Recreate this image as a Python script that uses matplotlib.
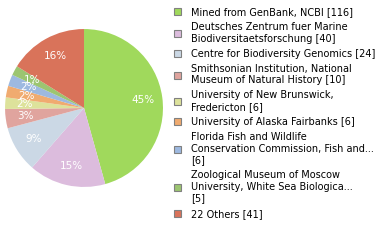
import matplotlib
matplotlib.use("Agg")
import matplotlib.pyplot as plt
from matplotlib.patches import Patch

# source labels (legend) and record counts
labels = [
    "Mined from GenBank, NCBI",
    "Deutsches Zentrum fuer Marine\nBiodiversitaetsforschung",
    "Centre for Biodiversity Genomics",
    "Smithsonian Institution, National\nMuseum of Natural History",
    "University of New Brunswick,\nFredericton",
    "University of Alaska Fairbanks",
    "Florida Fish and Wildlife\nConservation Commission, Fish and...\n",
    "Zoological Museum of Moscow\nUniversity, White Sea Biologica...\n",
    "22 Others",
]
counts = [116, 40, 24, 10, 6, 6, 6, 5, 41]
colors = ["#a0d95c", "#dcbcdd", "#cbd8e5", "#e0a49e", "#dde29b",
          "#f0ab70", "#9db9e0", "#9cc571", "#d9735a"]

fig = plt.figure(figsize=(3.8, 2.4), dpi=100)
ax = fig.add_axes([0.0132, 0.221, 0.4158, 0.658])

def pct_label(p):
    return "%d%%" % int(p)

wedges, texts, autotexts = ax.pie(counts, colors=colors, startangle=90,
                                  counterclock=False, autopct=pct_label,
                                  pctdistance=0.75, radius=1,
                                  wedgeprops={"linewidth": 0})
for t in autotexts:
    t.set_color("white")
    t.set_fontsize(7.5)
ax.set_xlim(-1, 1)
ax.set_ylim(-1, 1)
ax.set_aspect("equal")
ax.axis("off")

handles = [Patch(facecolor=c, edgecolor="#808080", linewidth=0.8) for c in colors]
legend_labels = []
for lab, n in zip(labels, counts):
    if lab.endswith("\n"):
        legend_labels.append(lab + "[%d]" % n)
    else:
        legend_labels.append(lab + " [%d]" % n)

fig.legend(handles, legend_labels, loc="upper left",
           bbox_to_anchor=(174 / 380, 1 - 7 / 240), frameon=False,
           fontsize=7, handlelength=0.75, handleheight=0.75,
           handletextpad=1.0, labelspacing=0.52, borderpad=0,
           borderaxespad=0)

fig.savefig("out.png", dpi=100)
